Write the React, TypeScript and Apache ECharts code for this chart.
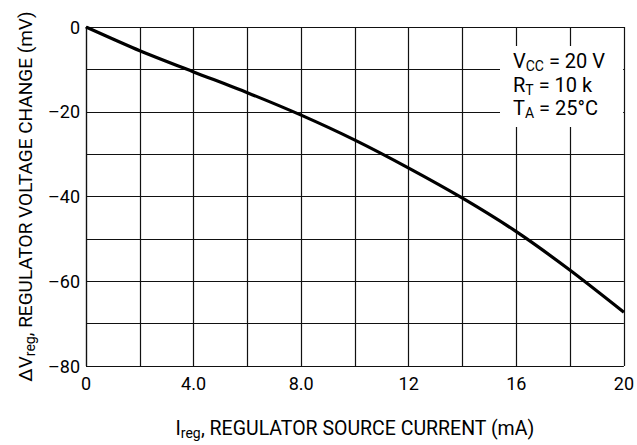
import React, { useEffect, useRef } from "react";
import * as echarts from "echarts";

const currentMA = [0, 2, 4, 6, 8, 10, 12, 14, 16, 18, 20];
const voltageChangeMV = [0, -5.6, -10.6, -15.5, -20.8, -26.7, -33.3, -40.4, -48.3, -57.4, -67.3];
const xTickLabels: Record<number, string> = { 0: "0", 4: "4.0", 8: "8.0", 12: "12", 16: "16", 20: "20" };
const yTickLabels: Record<number, string> = { 0: "0", [-20]: "–20", [-40]: "–40", [-60]: "–60", [-80]: "–80" };
const conditions = [
  ["V", "CC", " = 20 V"],
  ["R", "T", " = 10 k"],
  ["T", "A", " = 25°C"],
];

const FONT = "Roboto, 'Liberation Sans', sans-serif";

export default function App() {
  const ref = useRef<HTMLDivElement>(null);
  useEffect(() => {
    if (!ref.current) return;
    const chart = echarts.init(ref.current, undefined, { renderer: "svg" });
    const condText = conditions.map(([a, s, b]) => `{m|${a}}{s|${s}}{m|${b}}`).join("\n");
    chart.setOption({
      animation: false,
      backgroundColor: "#fff",
      textStyle: { fontFamily: FONT, color: "#000" },
      grid: { left: 86, right: 9, top: 27, bottom: 68, show: false },
      xAxis: {
        type: "value",
        min: 0,
        max: 20,
        interval: 2,
        axisLine: { show: true, lineStyle: { color: "#111", width: 1.2 } },
        axisTick: { show: false },
        splitLine: { show: true, lineStyle: { color: "#111", width: 1.2 } },
        axisLabel: {
          formatter: (v: number) => xTickLabels[v] ?? "",
          fontSize: 18,
          color: "#000",
          fontFamily: FONT,
          margin: 8,
        },
        name: "{m|I}{s|reg}{m|, REGULATOR SOURCE CURRENT (mA)}",
        nameLocation: "middle",
        nameGap: 50,
        nameTextStyle: {
          rich: {
            m: { fontSize: 19.5, fontFamily: FONT, color: "#000" },
            s: { fontSize: 14, fontFamily: FONT, color: "#000", verticalAlign: "bottom", padding: [10, 0, 0, 0] },
          },
        },
      },
      yAxis: {
        type: "value",
        min: -80,
        max: 0,
        interval: 10,
        axisLine: { show: true, lineStyle: { color: "#111", width: 1.2 } },
        axisTick: { show: false },
        splitLine: { show: true, lineStyle: { color: "#111", width: 1.2 } },
        axisLabel: {
          formatter: (v: number) => yTickLabels[v] ?? "",
          fontSize: 18,
          color: "#000",
          fontFamily: FONT,
          margin: 6,
        },
        name: "{m|ΔV}{s|reg}{m|, REGULATOR VOLTAGE CHANGE (mV)}",
        nameLocation: "middle",
        nameRotate: 90,
        nameGap: 48,
        nameTextStyle: {
          rich: {
            m: { fontSize: 19, fontFamily: FONT, color: "#000" },
            s: { fontSize: 14, fontFamily: FONT, color: "#000", verticalAlign: "bottom", padding: [10, 0, 0, 0] },
          },
        },
      },
      series: [
        {
          type: "line",
          data: currentMA.map((x, i) => [x, voltageChangeMV[i]]),
          smooth: 0.25,
          showSymbol: false,
          lineStyle: { color: "#000", width: 3.2 },
          z: 5,
        },
      ],
      graphic: [
        {
          type: "rect",
          shape: { x: 500, y: 46, width: 123, height: 81 },
          style: { fill: "#fff" },
          z: 10,
        },
        {
          type: "text",
          left: 513,
          top: 51,
          z: 11,
          style: {
            text: condText,
            fill: "#000",
            align: "left",
            verticalAlign: "top",
            rich: {
              m: { fontSize: 20, fontFamily: FONT, color: "#000", lineHeight: 23.5 },
              s: { fontSize: 14, fontFamily: FONT, color: "#000", lineHeight: 23.5, verticalAlign: "bottom", padding: [8, 0, 0, 0] },
            },
          },
        },
      ],
    });
    return () => chart.dispose();
  }, []);
  return <div ref={ref} style={{ width: 637, height: 445, position: "absolute", left: 0, top: 0 }} />;
}
